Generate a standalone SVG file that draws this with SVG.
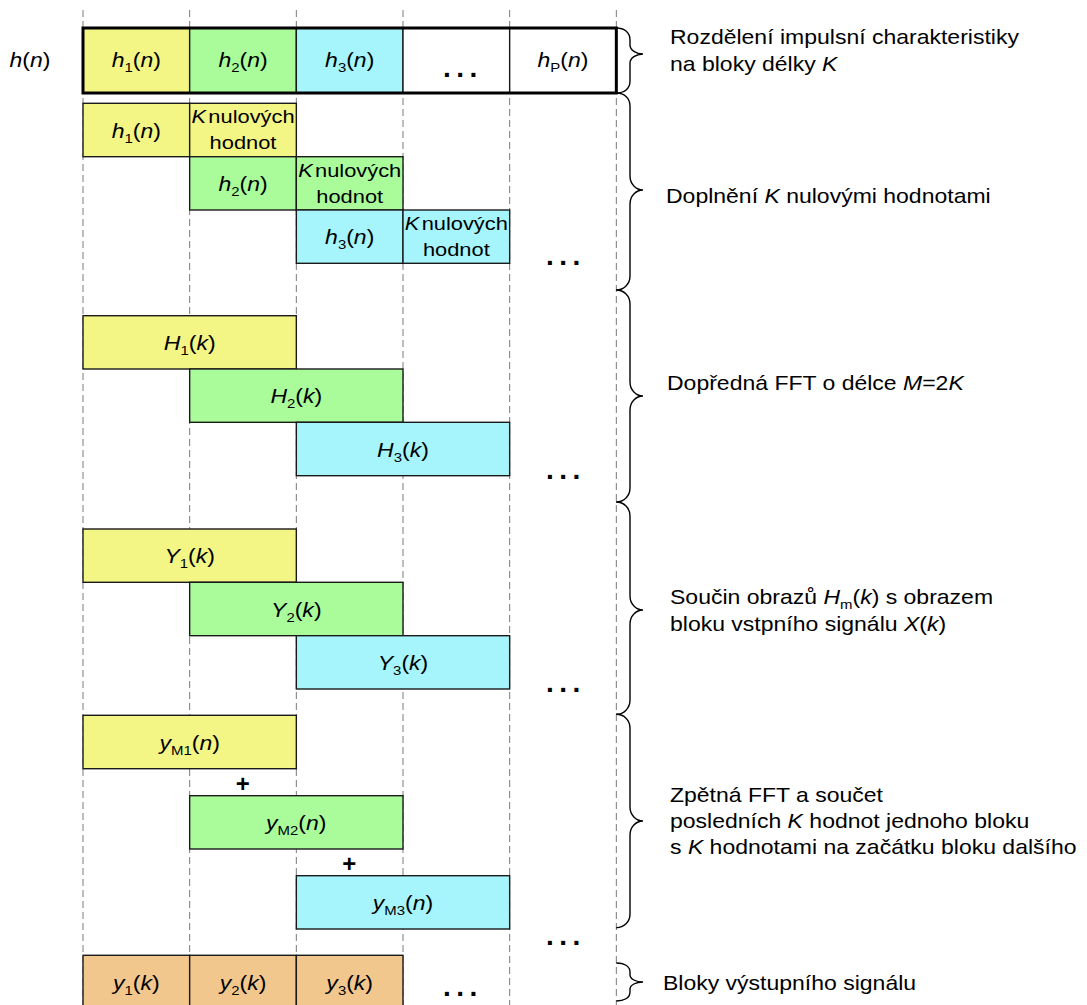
<svg xmlns="http://www.w3.org/2000/svg" width="1087" height="1005" viewBox="0 0 1087 1005">
  <style>
    .t { font-family: "Liberation Sans", Arial, sans-serif; font-size: 20px; fill: #000; }
    .c { text-anchor: middle; }
    .kz { font-size: 19px; }
    .i { font-style: italic; }
    .s { font-size: 13px; }
    .plus { font-family: "Liberation Sans", Arial, sans-serif; font-size: 24px; font-weight: bold; text-anchor: middle; }
    .dots { font-family: "Liberation Sans", Arial, sans-serif; font-size: 28px; font-weight: bold; letter-spacing: 5.5px; }
    .guide { stroke: #7a7a7a; stroke-width: 1; stroke-dasharray: 7 4; fill: none; }
    .box { stroke: #1a1a1a; stroke-width: 1.4; }
    .yel { fill: #F3F585; }
    .grn { fill: #AAFC9A; }
    .cyn { fill: #A6F5FD; }
    .org { fill: #F2C78D; }
    .wht { fill: #FFFFFF; }
    .brace { fill: none; stroke: #000; stroke-width: 1.4; }
  </style>

  <rect width="1087" height="1005" fill="#FFFFFF"/>

  <!-- dashed column guides, one per block boundary -->
  <g id="guides">
    <line class="guide" x1="83" y1="10" x2="83" y2="1005"/>
    <line class="guide" x1="189.67" y1="10" x2="189.67" y2="1005"/>
    <line class="guide" x1="296.33" y1="10" x2="296.33" y2="1005"/>
    <line class="guide" x1="403" y1="10" x2="403" y2="1005"/>
    <line class="guide" x1="509.67" y1="10" x2="509.67" y2="1005"/>
    <line class="guide" x1="616.33" y1="10" x2="616.33" y2="1005"/>
  </g>

  <!-- impulse response h(n) split into blocks -->
  <g id="row-h">
    <text class="t c" transform="translate(30 67) scale(1.15 1)"><tspan class="i">h</tspan>(<tspan class="i">n</tspan>)</text>
    <rect class="box yel" x="83" y="28" width="106.67" height="65"/>
    <rect class="box grn" x="189.67" y="28" width="106.67" height="65"/>
    <rect class="box cyn" x="296.33" y="28" width="106.67" height="65"/>
    <rect class="box wht" x="403" y="28" width="106.67" height="65"/>
    <rect class="box wht" x="509.67" y="28" width="106.67" height="65" stroke="#888"/>
    <rect x="83" y="28" width="533.33" height="65" fill="none" stroke="#000" stroke-width="3"/>
    <text class="t c" transform="translate(136.3 67) scale(1.15 1)"><tspan class="i">h</tspan><tspan class="s" dy="5">1</tspan><tspan dy="-5">(</tspan><tspan class="i">n</tspan>)</text>
    <text class="t c" transform="translate(243 67) scale(1.15 1)"><tspan class="i">h</tspan><tspan class="s" dy="5">2</tspan><tspan dy="-5">(</tspan><tspan class="i">n</tspan>)</text>
    <text class="t c" transform="translate(349.7 67) scale(1.15 1)"><tspan class="i">h</tspan><tspan class="s" dy="5">3</tspan><tspan dy="-5">(</tspan><tspan class="i">n</tspan>)</text>
    <text class="dots" x="443" y="77">...</text>
    <text class="t c" transform="translate(563 67) scale(1.15 1)"><tspan class="i">h</tspan><tspan class="s" dy="5">P</tspan><tspan dy="-5">(</tspan><tspan class="i">n</tspan>)</text>
  </g>

  <!-- zero-padded blocks -->
  <g id="pad-1">
    <rect class="box yel" x="83" y="103.3" width="106.67" height="53.4"/>
    <rect class="box yel" x="189.67" y="103.3" width="106.67" height="53.4"/>
    <text class="t c" transform="translate(136.3 137.5) scale(1.15 1)"><tspan class="i">h</tspan><tspan class="s" dy="5">1</tspan><tspan dy="-5">(</tspan><tspan class="i">n</tspan>)</text>
    <text class="t c kz" transform="translate(243 123.3) scale(1.15 1)"><tspan class="i">K</tspan><tspan dx="2">nulových</tspan></text>
    <text class="t c kz" transform="translate(243 149.3) scale(1.15 1)">hodnot</text>
  </g>
  <g id="pad-2">
    <rect class="box grn" x="189.67" y="156.7" width="106.67" height="53.3"/>
    <rect class="box grn" x="296.33" y="156.7" width="106.67" height="53.3"/>
    <text class="t c" transform="translate(243 191) scale(1.15 1)"><tspan class="i">h</tspan><tspan class="s" dy="5">2</tspan><tspan dy="-5">(</tspan><tspan class="i">n</tspan>)</text>
    <text class="t c kz" transform="translate(349.7 176.7) scale(1.15 1)"><tspan class="i">K</tspan><tspan dx="2">nulových</tspan></text>
    <text class="t c kz" transform="translate(349.7 202.7) scale(1.15 1)">hodnot</text>
  </g>
  <g id="pad-3">
    <rect class="box cyn" x="296.33" y="210" width="106.67" height="53.3"/>
    <rect class="box cyn" x="403" y="210" width="106.67" height="53.3"/>
    <text class="t c" transform="translate(349.7 244) scale(1.15 1)"><tspan class="i">h</tspan><tspan class="s" dy="5">3</tspan><tspan dy="-5">(</tspan><tspan class="i">n</tspan>)</text>
    <text class="t c kz" transform="translate(456.3 230) scale(1.15 1)"><tspan class="i">K</tspan><tspan dx="2">nulových</tspan></text>
    <text class="t c kz" transform="translate(456.3 256) scale(1.15 1)">hodnot</text>
  </g>
  <text class="dots" x="546" y="265">...</text>

  <!-- forward FFT of length M = 2K -->
  <g id="fft-1">
    <rect class="box yel" x="83" y="315.7" width="213.33" height="53.3"/>
    <text class="t c" transform="translate(189.7 350) scale(1.15 1)"><tspan class="i">H</tspan><tspan class="s" dy="5">1</tspan><tspan dy="-5">(</tspan><tspan class="i">k</tspan>)</text>
  </g>
  <g id="fft-2">
    <rect class="box grn" x="189.67" y="369" width="213.33" height="53.3"/>
    <text class="t c" transform="translate(296.3 403.2) scale(1.15 1)"><tspan class="i">H</tspan><tspan class="s" dy="5">2</tspan><tspan dy="-5">(</tspan><tspan class="i">k</tspan>)</text>
  </g>
  <g id="fft-3">
    <rect class="box cyn" x="296.33" y="422.3" width="213.33" height="53.4"/>
    <text class="t c" transform="translate(403 456.5) scale(1.15 1)"><tspan class="i">H</tspan><tspan class="s" dy="5">3</tspan><tspan dy="-5">(</tspan><tspan class="i">k</tspan>)</text>
  </g>
  <text class="dots" x="546" y="479">...</text>

  <!-- spectral products -->
  <g id="prod-1">
    <rect class="box yel" x="83" y="529" width="213.33" height="53.3"/>
    <text class="t c" transform="translate(189.7 563.2) scale(1.15 1)"><tspan class="i">Y</tspan><tspan class="s" dy="5">1</tspan><tspan dy="-5">(</tspan><tspan class="i">k</tspan>)</text>
  </g>
  <g id="prod-2">
    <rect class="box grn" x="189.67" y="582.3" width="213.33" height="53.4"/>
    <text class="t c" transform="translate(296.3 616.5) scale(1.15 1)"><tspan class="i">Y</tspan><tspan class="s" dy="5">2</tspan><tspan dy="-5">(</tspan><tspan class="i">k</tspan>)</text>
  </g>
  <g id="prod-3">
    <rect class="box cyn" x="296.33" y="635.7" width="213.33" height="53.3"/>
    <text class="t c" transform="translate(403 670) scale(1.15 1)"><tspan class="i">Y</tspan><tspan class="s" dy="5">3</tspan><tspan dy="-5">(</tspan><tspan class="i">k</tspan>)</text>
  </g>
  <text class="dots" x="546" y="692">...</text>

  <!-- inverse FFT blocks with overlap-add -->
  <g id="ifft-1">
    <rect class="box yel" x="83" y="715.3" width="213.33" height="53.4"/>
    <text class="t c" transform="translate(189.7 749.5) scale(1.15 1)"><tspan class="i">y</tspan><tspan class="s" dy="5">M1</tspan><tspan dy="-5">(</tspan><tspan class="i">n</tspan>)</text>
  </g>
  <text class="plus" x="242.7" y="792">+</text>
  <g id="ifft-2">
    <rect class="box grn" x="189.67" y="795.7" width="213.33" height="53.3"/>
    <text class="t c" transform="translate(296.3 830) scale(1.15 1)"><tspan class="i">y</tspan><tspan class="s" dy="5">M2</tspan><tspan dy="-5">(</tspan><tspan class="i">n</tspan>)</text>
  </g>
  <text class="plus" x="349.3" y="872">+</text>
  <g id="ifft-3">
    <rect class="box cyn" x="296.33" y="875.7" width="213.33" height="53.3"/>
    <text class="t c" transform="translate(403 910) scale(1.15 1)"><tspan class="i">y</tspan><tspan class="s" dy="5">M3</tspan><tspan dy="-5">(</tspan><tspan class="i">n</tspan>)</text>
  </g>
  <text class="dots" x="546" y="945">...</text>

  <!-- output signal blocks -->
  <g id="out">
    <rect class="box org" x="83" y="955.3" width="106.67" height="60"/>
    <rect class="box org" x="189.67" y="955.3" width="106.67" height="60"/>
    <rect class="box org" x="296.33" y="955.3" width="106.67" height="60"/>
    <text class="t c" transform="translate(136.3 990) scale(1.15 1)"><tspan class="i">y</tspan><tspan class="s" dy="5">1</tspan><tspan dy="-5">(</tspan><tspan class="i">k</tspan>)</text>
    <text class="t c" transform="translate(243 990) scale(1.15 1)"><tspan class="i">y</tspan><tspan class="s" dy="5">2</tspan><tspan dy="-5">(</tspan><tspan class="i">k</tspan>)</text>
    <text class="t c" transform="translate(349.7 990) scale(1.15 1)"><tspan class="i">y</tspan><tspan class="s" dy="5">3</tspan><tspan dy="-5">(</tspan><tspan class="i">k</tspan>)</text>
    <text class="dots" x="443" y="996">...</text>
  </g>

  <!-- curly braces grouping the stages -->
  <g id="braces">
    <path class="brace" d="M616.3,28 C624,28 630,32 630,40 L630,45 C630,50 636,54 643,54 C636,54 630,58 630,63 L630,81 C630,89 624,93 616.3,93"/>
    <path class="brace" d="M616.3,93 C624,93 630,98 630,106 L630,176 C630,184 636,190 643,190 C636,190 630,196 630,204 L630,276 C630,284 624,290 616.3,290"/>
    <path class="brace" d="M616.3,290 C624,290 630,296 630,304 L630,382 C630,390 636,396 643,396 C636,396 630,402 630,410 L630,488 C630,496 624,502 616.3,502"/>
    <path class="brace" d="M616.3,502 C624,502 630,508 630,516 L630,596 C630,604 636,610 643,610 C636,610 630,616 630,624 L630,700 C630,708 624,714.3 616.3,714.3"/>
    <path class="brace" d="M616.3,714.3 C624,714.3 630,720 630,728 L630,807 C630,815 636,821 643,821 C636,821 630,827 630,835 L630,914 C630,922 624,927.7 616.3,927.7"/>
    <path class="brace" d="M616.3,963 C624,963 630,966 630,972 L630,975 C630,979 636,982 643,982 C636,982 630,985 630,989 L630,992 C630,998 624,1001 616.3,1001"/>
  </g>

  <!-- stage descriptions -->
  <g id="notes">
    <text class="t" transform="translate(670 44) scale(1.15 1)">Rozdělení impulsní charakteristiky</text>
    <text class="t" transform="translate(670 71) scale(1.15 1)">na bloky délky <tspan class="i">K</tspan></text>
    <text class="t" transform="translate(666 203) scale(1.15 1)">Doplnění <tspan class="i">K</tspan> nulovými hodnotami</text>
    <text class="t" transform="translate(667 390) scale(1.15 1)">Dopředná FFT o délce <tspan class="i">M</tspan>=2<tspan class="i">K</tspan></text>
    <text class="t" transform="translate(670 604) scale(1.15 1)">Součin obrazů <tspan class="i">H</tspan><tspan class="s" dy="5">m</tspan><tspan dy="-5">(</tspan><tspan class="i">k</tspan>) s obrazem</text>
    <text class="t" transform="translate(670 631) scale(1.15 1)">bloku vstpního signálu <tspan class="i">X</tspan>(<tspan class="i">k</tspan>)</text>
    <text class="t" transform="translate(670 802) scale(1.15 1)">Zpětná FFT a součet</text>
    <text class="t" transform="translate(670 828) scale(1.15 1)">posledních <tspan class="i">K</tspan> hodnot jednoho bloku</text>
    <text class="t" transform="translate(670 854) scale(1.15 1)">s <tspan class="i">K</tspan> hodnotami na začátku bloku dalšího</text>
    <text class="t" transform="translate(663 990) scale(1.15 1)">Bloky výstupního signálu</text>
  </g>
</svg>
